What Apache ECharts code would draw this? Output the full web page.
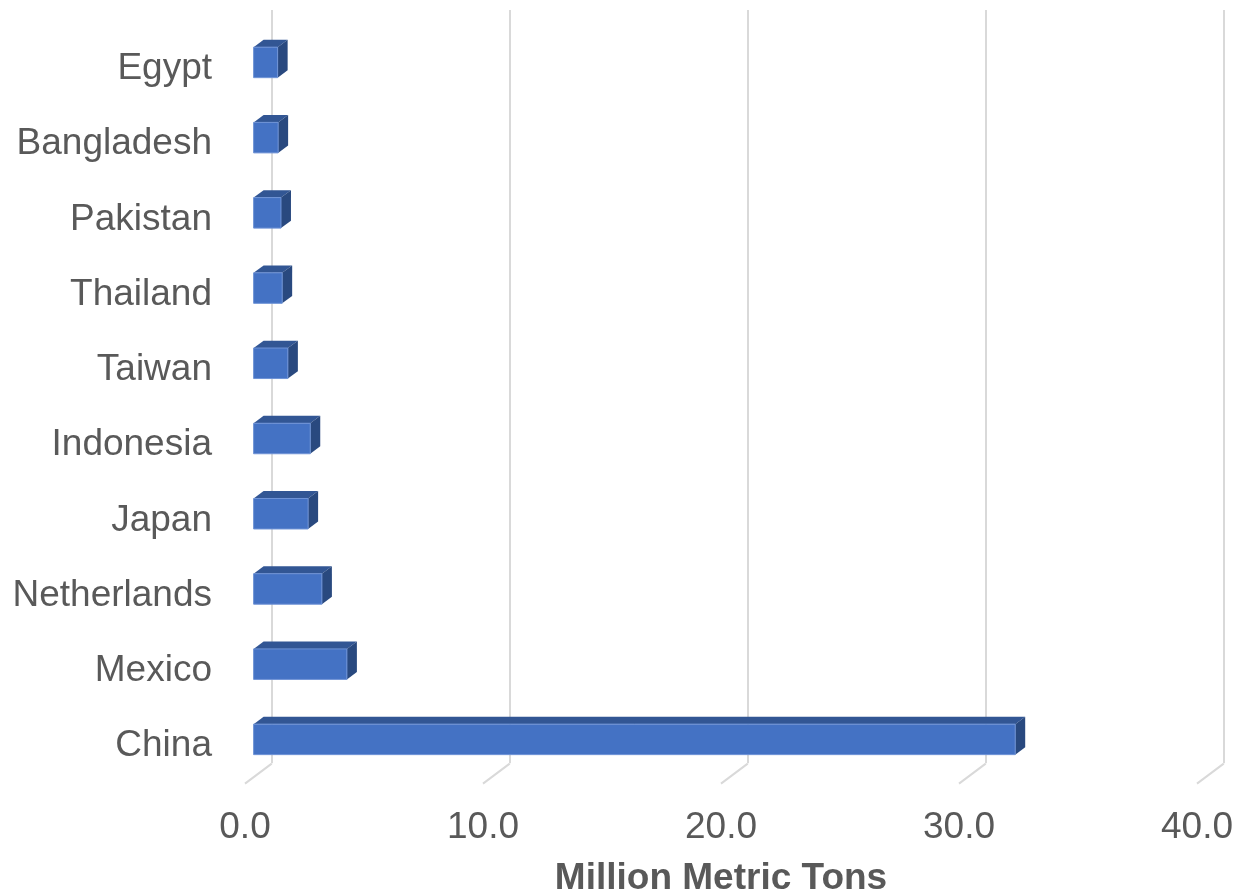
<!DOCTYPE html>
<html>
<head>
<meta charset="utf-8">
<script src="https://cdn.jsdelivr.net/npm/echarts@6/dist/echarts.min.js"></script>
<style>
  html, body { margin: 0; padding: 0; background: #ffffff; overflow: hidden; }
  #chart { width: 1239px; height: 895px; }
</style>
</head>
<body>
<div id="chart"></div>
<script>
// Countries listed bottom-to-top along the category axis
const countries = ['China', 'Mexico', 'Netherlands', 'Japan', 'Indonesia', 'Taiwan', 'Thailand', 'Pakistan', 'Bangladesh', 'Egypt'];
// Million metric tons
const tons = [32.0, 3.92, 2.87, 2.29, 2.38, 1.44, 1.2, 1.15, 1.03, 1.01];
// Value axis ticks
const xTicks = [0, 10, 20, 30, 40];
const axisTitle = 'Million Metric Tons';

const FONT = '"Liberation Sans", Arial, Helvetica, sans-serif';
const TEXT = '#595959';
const GRID = '#D9D9D9';

// 3D look: floor depth from front plane to back wall
const FLOOR_DX = 26.7, FLOOR_DY = -20;
// bar sits one third into the floor; its own depth
const BAR_SHIFT_X = 8.6, BAR_SHIFT_Y = -6.6;
const BAR_DX = 10, BAR_DY = -7.4;
const BAR_H = 30.5;

const chart = echarts.init(document.getElementById('chart'), null, { renderer: 'canvas', width: 1239, height: 895 });

function renderBar(params, api) {
  const v = api.value(0);
  const c = api.value(1);
  const p0 = api.coord([0, c]);
  const p1 = api.coord([v, c]);
  const x = p0[0] + BAR_SHIFT_X;
  const w = p1[0] - p0[0];
  const y = p0[1] + BAR_SHIFT_Y - BAR_H / 2;
  const h = BAR_H;
  return {
    type: 'group',
    children: [
      {
        type: 'polygon',
        shape: { points: [[x, y], [x + BAR_DX, y + BAR_DY], [x + w + BAR_DX, y + BAR_DY], [x + w, y]] },
        style: { fill: '#325694' }
      },
      {
        type: 'polygon',
        shape: { points: [[x + w, y], [x + w + BAR_DX, y + BAR_DY], [x + w + BAR_DX, y + h + BAR_DY], [x + w, y + h]] },
        style: { fill: '#29497F' }
      },
      {
        type: 'rect',
        shape: { x: x, y: y, width: w, height: h },
        style: { fill: '#4472C4', stroke: '#6F93D6', lineWidth: 1 }
      }
    ]
  };
}

function renderFloorLine(params, api) {
  const cs = params.coordSys;
  const x = api.coord([api.value(0), 0])[0];
  const bottom = cs.y + cs.height;
  return {
    type: 'line',
    shape: { x1: x, y1: bottom, x2: x + FLOOR_DX, y2: bottom + FLOOR_DY },
    style: { stroke: GRID, lineWidth: 2 }
  };
}

const option = {
  backgroundColor: '#ffffff',
  animation: false,
  grid: [
    // front plane: bars, labels
    { left: 245, width: 952, top: 31.4, height: 752.2, containLabel: false, outerBoundsMode: 'none' },
    // back wall: vertical gridlines
    { left: 271.7, width: 952, top: 10, height: 753.3, containLabel: false, outerBoundsMode: 'none' }
  ],
  xAxis: [
    {
      gridIndex: 0, type: 'value', min: 0, max: 40, interval: 10,
      axisLine: { show: false }, axisTick: { show: false }, splitLine: { show: false },
      axisLabel: { fontFamily: FONT, fontSize: 37, color: TEXT, margin: 26, formatter: v => v.toFixed(1) },
      name: axisTitle, nameLocation: 'middle', nameGap: 77,
      nameTextStyle: { fontFamily: FONT, fontSize: 37, fontWeight: 'bold', color: TEXT }
    },
    {
      gridIndex: 1, type: 'value', min: 0, max: 40, interval: 10,
      axisLine: { show: false }, axisTick: { show: false }, axisLabel: { show: false },
      splitLine: { show: true, lineStyle: { color: GRID, width: 2 } }
    }
  ],
  yAxis: [
    {
      gridIndex: 0, type: 'category', data: countries,
      axisLine: { show: false }, axisTick: { show: false }, splitLine: { show: false },
      axisLabel: { fontFamily: FONT, fontSize: 37, color: TEXT, margin: 33, padding: [5, 0, 0, 0] }
    },
    {
      gridIndex: 1, type: 'value', show: false
    }
  ],
  series: [
    {
      type: 'custom', xAxisIndex: 0, yAxisIndex: 0,
      renderItem: renderFloorLine,
      data: xTicks.map(v => [v, 0]),
      silent: true, z: 1
    },
    {
      type: 'custom', xAxisIndex: 0, yAxisIndex: 0,
      renderItem: renderBar,
      encode: { x: 0, y: 1 },
      data: tons.map((v, i) => [v, i]),
      z: 5
    }
  ]
};

chart.setOption(option);
</script>
</body>
</html>
